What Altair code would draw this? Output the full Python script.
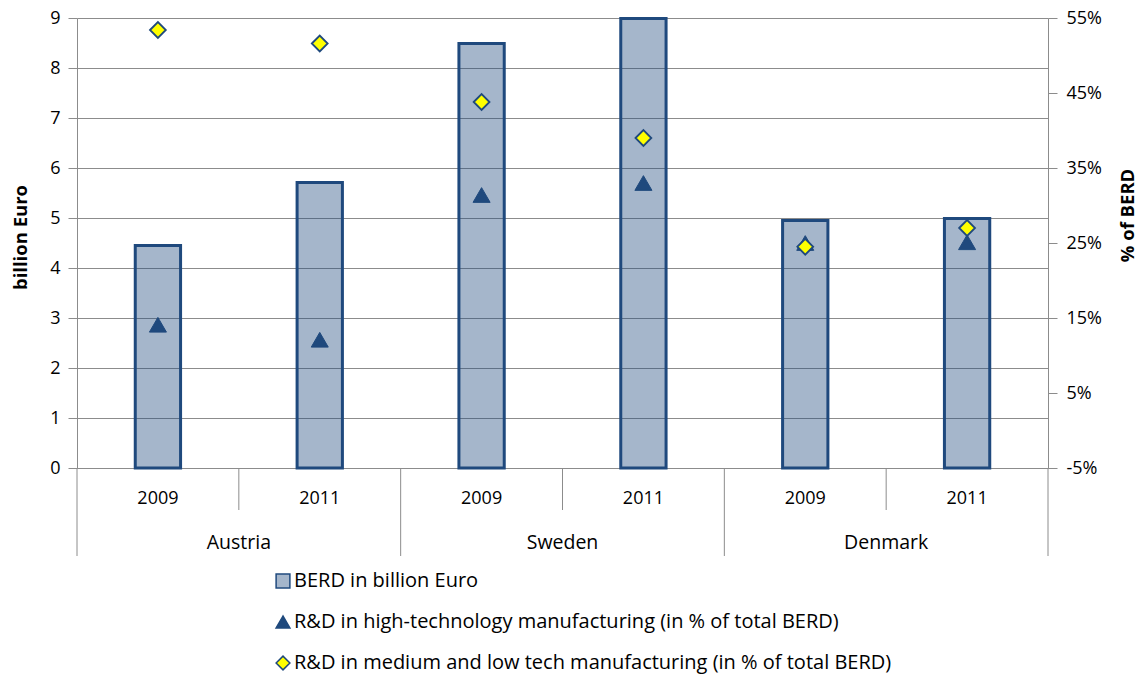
import altair as alt
import pandas as pd

countries = ["Austria", "Sweden", "Denmark"]
years = ["2009", "2011"]
berd = [4.45, 5.71, 8.49, 8.99, 4.95, 4.99]
high_tech = [14.1, 12.1, 31.4, 33.0, 25.0, 25.1]
med_low = [53.4, 51.6, 43.8, 39.0, 24.5, 27.0]
series = [
    "BERD in billion Euro",
    "R&D in high-technology manufacturing (in % of total BERD)",
    "R&D in medium and low tech manufacturing (in % of total BERD)",
]
left_ticks = list(range(0, 10))
right_ticks = [-5, 5, 15, 25, 35, 45, 55]

cats = [f"{c} {y}" for c in countries for y in years]

DARK = "#1F497D"
BARFILL = "#A5B6CB"
GRAY = "#8C8C8C"
FONT = "Open Sans"
W, H = 971, 450

bars_df = pd.DataFrame({"cat": cats, "value": berd})
tri_df = pd.DataFrame({"cat": cats, "value": high_tech, "series": series[1]})
dia_df = pd.DataFrame({"cat": cats, "value": med_low, "series": series[2]})
first_cats = [f"{c} {years[0]}" for c in countries]
second_cats = [f"{c} {years[1]}" for c in countries]
country_df = pd.DataFrame({"cat": first_cats, "country": countries})
long_df = pd.DataFrame({"cat": first_cats})
end_df = pd.DataFrame({"cat": [cats[-1]]})
short_df = pd.DataFrame({"cat": second_cats})

xscale = alt.Scale(domain=cats, paddingInner=0, paddingOuter=0)
xaxis = alt.Axis(title=None, ticks=False, labelExpr="split(datum.label, ' ')[1]",
                 labelAngle=0, labelPadding=21, labelFontSize=18, domainColor=GRAY)


def X(bp=None):
    if bp is None:
        return alt.X("cat:N", scale=xscale, axis=xaxis)
    return alt.X("cat:N", scale=xscale, axis=xaxis, bandPosition=bp)


fill = alt.Fill("series:N", scale=alt.Scale(domain=series, range=[BARFILL, DARK, "#FFFF00"]),
                legend=alt.Legend(title=None))
shape = alt.Shape("series:N", scale=alt.Scale(domain=series, range=["square", "triangle-up", "diamond"]),
                  legend=alt.Legend(title=None))
stroke = alt.Stroke("series:N", scale=alt.Scale(domain=series, range=[DARK, DARK, DARK]),
                    legend=alt.Legend(title=None))

yright = alt.Y("value:Q", scale=alt.Scale(domain=[-5, 55], nice=False, zero=False),
               axis=alt.Axis(orient="right", values=right_ticks, labelExpr="datum.value + '%'",
                             title="% of BERD", grid=False, tickSize=9, labelPadding=9,
                             titleFontSize=18.5, titleFontWeight="bold",
                             titleAngle=270, titleX=79, titleY=197,
                             titleAlign="center", titleBaseline="middle"))

bars = alt.Chart(bars_df).mark_bar(
    width=alt.RelativeBandSize(0.28), stroke=DARK, strokeWidth=3, fill=DARK, fillOpacity=0.4
).encode(
    x=X(),
    y=alt.Y("value:Q", scale=alt.Scale(domain=[0, 9], nice=False),
            axis=alt.Axis(values=left_ticks, title="billion Euro", grid=True, tickSize=9,
                          labelPadding=8, titleFontSize=18.5, titleFontWeight="bold",
                          titleAngle=270, titleX=-57, titleY=219,
                          titleAlign="center", titleBaseline="middle")),
)

triangles = alt.Chart(tri_df).mark_point(
    filled=True, size=290, strokeWidth=1, opacity=1
).encode(x=X(), y=yright, fill=fill, shape=shape, stroke=stroke)

diamonds = alt.Chart(dia_df).mark_point(
    filled=True, size=250, strokeWidth=1.8, opacity=1
).encode(x=X(), y=yright, fill=fill, shape=shape, stroke=stroke)

short_rules = alt.Chart(short_df).mark_rule(color=GRAY, strokeWidth=1).encode(
    x=X(0), y=alt.value(H), y2=alt.value(H + 42))
long_rules = alt.Chart(long_df).mark_rule(color=GRAY, strokeWidth=1).encode(
    x=X(0), y=alt.value(H), y2=alt.value(H + 88))
end_rule = alt.Chart(end_df).mark_rule(color=GRAY, strokeWidth=1).encode(
    x=X(1), y=alt.value(H), y2=alt.value(H + 88))
country_text = alt.Chart(country_df).mark_text(
    font=FONT, fontSize=19.5, color="black", baseline="middle", align="center"
).encode(x=X(1), y=alt.value(H + 75), text="country:N")

points = alt.layer(triangles, diamonds)

chart = alt.layer(
    short_rules, long_rules, end_rule, bars, points, country_text
).resolve_scale(y="independent").properties(
    width=W, height=H,
    autosize=alt.AutoSizeParams(type="none"),
    padding={"left": 69, "top": 10, "right": 89, "bottom": 208},
).configure_view(stroke=None).configure_axis(
    labelFont=FONT, titleFont=FONT, labelFontSize=18, labelColor="black", titleColor="black",
    domainColor=GRAY, tickColor=GRAY, gridColor=GRAY,
).configure_legend(
    orient="none", legendX=196, legendY=553, direction="vertical",
    labelFont=FONT, labelFontSize=20, labelColor="black", labelLimit=1000,
    symbolStrokeWidth=1.5, symbolSize=190, rowPadding=21, labelOffset=1,
)

chart.save("out.html", embed_options={"renderer": "svg", "actions": False})
